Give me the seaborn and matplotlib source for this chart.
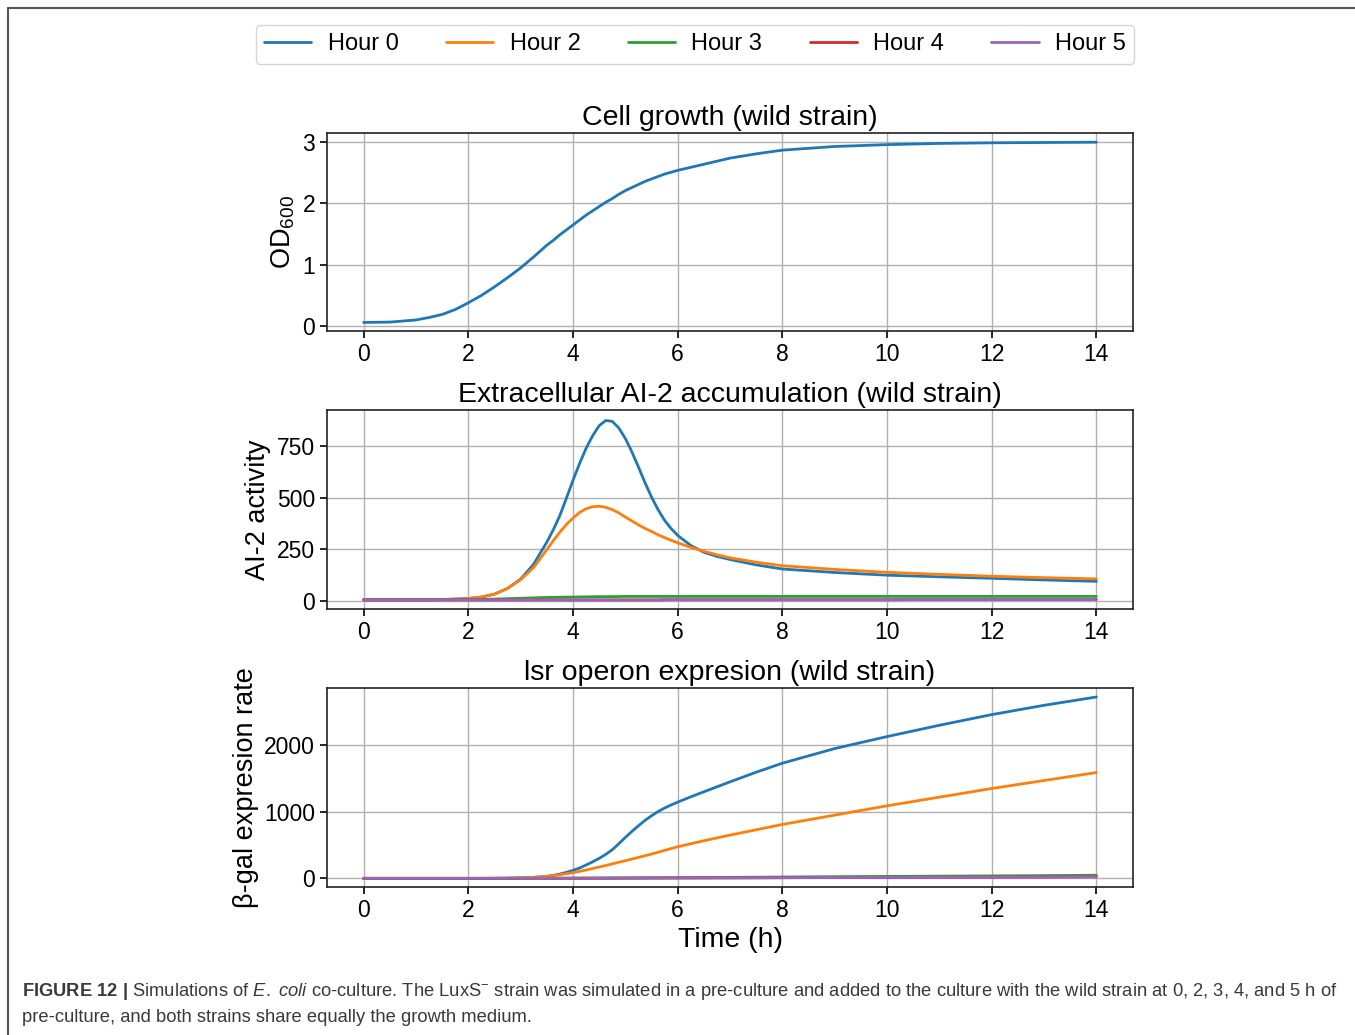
import numpy as np
import pandas as pd
import matplotlib
matplotlib.use("Agg")
import matplotlib.pyplot as plt
from matplotlib.lines import Line2D
import seaborn as sns

# Sampling times (h)
time_h = [0, 0.5, 1, 1.25, 1.5, 1.75, 2, 2.25, 2.5, 2.75, 3, 3.25,
          3.5, 3.625, 3.75, 3.875, 4, 4.125, 4.25, 4.375, 4.5, 4.625, 4.75, 4.875,
          5, 5.125, 5.25, 5.375, 5.5, 5.625, 5.75, 5.875, 6,
          6.25, 6.5, 6.75, 7, 7.5, 8, 9, 10, 11, 12, 13, 14]

series_names = ["Hour 0", "Hour 2", "Hour 3", "Hour 4", "Hour 5"]
series_colors = ["#1f77b4", "#ff7f0e", "#2ca02c", "#d62728", "#9467bd"]

# Cell growth of the wild strain (OD600)
od600_h0 = [0.06, 0.065, 0.10, 0.14, 0.19, 0.27, 0.38, 0.50, 0.64, 0.79, 0.95, 1.13,
            1.32, 1.40, 1.49, 1.57, 1.65, 1.73, 1.81, 1.88, 1.95, 2.02, 2.08, 2.15,
            2.21, 2.26, 2.31, 2.36, 2.40, 2.44, 2.48, 2.51, 2.54,
            2.59, 2.64, 2.69, 2.74, 2.81, 2.87, 2.93, 2.96, 2.98, 2.99, 2.995, 3.0]

# Extracellular AI-2 activity
ai2_h0 = [5, 5, 5, 5, 6, 8, 11, 18, 32, 60, 105, 178,
          284, 345, 414, 498, 584, 665, 739, 800, 849, 874, 870, 838,
          787, 722, 649, 573, 503, 442, 390, 350, 317,
          268, 235, 215, 200, 174, 154, 137, 124, 116, 109, 101, 94]
ai2_h2 = [5, 5, 5, 5, 6, 8, 11, 18, 32, 60, 102, 162,
          248, 292, 333, 370, 401, 428, 446, 456, 458, 453, 442, 426,
          406, 387, 368, 351, 336, 320, 306, 293, 281,
          259, 240, 223, 208, 187, 170, 152, 138, 128, 119, 112, 106]
ai2_h3 = [5, 5, 5, 5, 5, 5, 6, 7, 8, 10, 12, 14,
          16, 16.5, 17, 17.5, 18, 18.5, 19, 19.5, 20, 20, 20, 20.5,
          21, 21, 21, 21, 21, 21, 21, 21, 21,
          21, 21, 21, 21, 21, 21, 21, 21, 21, 21, 21, 21]
ai2_h4 = [4, 4, 4, 4, 4, 4, 4, 4, 4, 4, 4, 4,
          4, 4, 4, 4, 4, 4, 4, 4, 4, 4, 4, 4,
          4, 4, 4, 4, 4, 4, 5, 5, 5,
          5, 5, 5, 5, 5, 5, 5, 5, 6, 6, 6, 6]
ai2_h5 = [4, 4, 4, 4, 4, 4, 4, 4, 4, 4, 4, 4,
          4, 4, 4, 4, 4, 4, 4, 4, 4, 4, 4, 4,
          4, 4, 4, 4, 4, 4, 5, 5, 5,
          5, 5, 5, 5, 5, 5, 5, 5, 6, 6, 6, 6]

# lsr operon (beta-galactosidase) expression rate
bgal_h0 = [0, 0, 0, 0, 0, 0, 0, 0, 1, 3, 8, 15,
           30, 45, 65, 90, 120, 155, 200, 248, 300, 360, 430, 520,
           615, 705, 790, 870, 940, 1003, 1057, 1103, 1145,
           1225, 1300, 1375, 1450, 1595, 1730, 1950, 2130, 2300, 2460, 2600, 2725]
bgal_h2 = [0, 0, 0, 0, 0, 0, 0, 0, 1, 3, 8, 15,
           30, 42, 55, 70, 85, 105, 125, 148, 170, 193, 218, 242,
           265, 290, 315, 340, 365, 392, 420, 447, 475,
           520, 565, 608, 650, 730, 810, 950, 1090, 1220, 1350, 1470, 1590]
bgal_h3 = [0, 0, 0, 0, 0, 0, 0, 0, 0, 0, 0, 0.5,
           1, 1, 2, 2, 3, 3, 4, 4, 5, 5, 6, 6,
           7, 7, 8, 8, 9, 9, 10, 10, 11,
           12, 13, 14, 15, 17, 20, 25, 29, 33, 37, 41, 47]
bgal_h4 = [0, 0, 0, 0, 0, 0, 0, 0, 0, 0, 0, 0,
           0.5, 0.5, 1, 1, 1.5, 1.5, 2, 2, 2.5, 2.5, 3, 3,
           3.5, 3.5, 4, 4, 4.5, 4.5, 5, 5, 5.5,
           6, 6.5, 7, 7.5, 8.5, 10, 12.5, 14.5, 16.5, 18.5, 20.5, 23.5]
bgal_h5 = [0, 0, 0, 0, 0, 0, 0, 0, 0, 0, 0, 0,
           0.5, 0.5, 1, 1, 1.5, 1.5, 2, 2, 2.5, 2.5, 3, 3,
           3.5, 3.5, 4, 4, 4.5, 4.5, 5, 5, 5.5,
           6, 6.5, 7, 7.5, 8.5, 10, 12.5, 14.5, 16.5, 18.5, 20.5, 23.5]


def long_frame(columns):
    parts = []
    for name, vals in columns:
        parts.append(pd.DataFrame({"time": time_h, "value": vals, "series": name}))
    return pd.concat(parts, ignore_index=True)


od_df = long_frame([("Hour 0", od600_h0)])
ai2_df = long_frame(list(zip(series_names, [ai2_h0, ai2_h2, ai2_h3, ai2_h4, ai2_h5])))
bgal_df = long_frame(list(zip(series_names, [bgal_h0, bgal_h2, bgal_h3, bgal_h4, bgal_h5])))

sns.set_style("ticks", {"axes.grid": True, "grid.color": "#b0b0b0",
                        "axes.edgecolor": "#222222"})
plt.rcParams["font.family"] = ["Liberation Sans", "DejaVu Sans"]
plt.rcParams["mathtext.fontset"] = "custom"
plt.rcParams["mathtext.rm"] = "Liberation Sans"
plt.rcParams["mathtext.it"] = "Liberation Sans:italic"
plt.rcParams["mathtext.bf"] = "Liberation Sans:bold"
plt.rcParams["text.color"] = "black"
plt.rcParams["axes.labelcolor"] = "black"
plt.rcParams["xtick.color"] = "black"
plt.rcParams["ytick.color"] = "black"
plt.rcParams["grid.linewidth"] = 1.0
plt.rcParams["axes.linewidth"] = 1.2

palette = dict(zip(series_names, series_colors))

fig = plt.figure(figsize=(13.55, 10.35), dpi=100)
W, H = 1355, 1035


def add_ax(top_px, bottom_px):
    return fig.add_axes([327 / W, 1 - bottom_px / H, 806 / W, (bottom_px - top_px) / H])


ax1 = add_ax(133, 331)
ax2 = add_ax(410, 609)
ax3 = add_ax(688, 887)

tick_fs = 16.5
label_fs = 19.5
title_fs = 20.5

for ax, df in ((ax1, od_df), (ax2, ai2_df), (ax3, bgal_df)):
    sns.lineplot(data=df, x="time", y="value", hue="series", palette=palette,
                 linewidth=2.0, ax=ax, legend=False)

ax1.set_title("Cell growth (wild strain)", fontsize=title_fs, pad=6)
ax2.set_title("Extracellular AI-2 accumulation (wild strain)", fontsize=title_fs, pad=6)
ax3.set_title("lsr operon expresion (wild strain)", fontsize=title_fs, pad=6)

ax1.set_ylabel("OD$_{600}$", fontsize=label_fs)
ax2.set_ylabel("AI-2 activity", fontsize=label_fs)
ax3.set_ylabel("β-gal expresion rate", fontsize=label_fs)
ax1.set_xlabel("")
ax2.set_xlabel("")
ax3.set_xlabel("Time (h)", fontsize=label_fs + 1)

ax1.set_yticks([0, 1, 2, 3])
ax2.set_yticks([0, 250, 500, 750])
ax3.set_yticks([0, 1000, 2000])

for ax in (ax1, ax2, ax3):
    ax.set_xlim(-0.7, 14.7)
    ax.set_xticks(range(0, 15, 2))
    ax.tick_params(labelsize=tick_fs, width=1.2, length=5, colors="black")
    ax.grid(True, color="#b0b0b0", linewidth=1.0)
    for s in ax.spines.values():
        s.set_visible(True)
        s.set_color("#222222")

ax1.set_ylim(-0.08, 3.15)
ax2.set_ylim(-40, 925)
ax3.set_ylim(-130, 2860)

# Shared legend across the top
handles = [Line2D([0], [0], color=c, linewidth=2.0) for c in series_colors]
fig.legend(handles, series_names, loc="center", ncol=5,
           bbox_to_anchor=(695 / W, 1 - 44.5 / H), fontsize=17,
           frameon=True, fancybox=True, edgecolor="#cccccc",
           handlelength=2.0, handletextpad=0.7, columnspacing=2.0,
           borderpad=0.35)

# Page frame
fig.add_artist(Line2D([8 / W, 1.0], [1 - 8 / H, 1 - 8 / H], color="#555555",
                      linewidth=1.5, transform=fig.transFigure))
fig.add_artist(Line2D([8 / W, 8 / W], [1 - 8 / H, 0.0], color="#555555",
                      linewidth=1.5, transform=fig.transFigure))

# Caption
cap_fs = 13.2
fig.text(22 / W, 1 - 991 / H,
         r"$\mathbf{FIGURE\ 12\ |}$ Simulations of $\mathit{E.}$ $\mathit{coli}$ co-culture. "
         r"The LuxS$^{-}$ strain was simulated in a pre-culture and added to the culture "
         r"with the wild strain at 0, 2, 3, 4, and 5 h of",
         fontsize=cap_fs, color="#3a3a3a", ha="left", va="center")
fig.text(22 / W, 1 - 1017 / H,
         "pre-culture, and both strains share equally the growth medium.",
         fontsize=cap_fs, color="#3a3a3a", ha="left", va="center")

fig.savefig("out.png", dpi=100)
